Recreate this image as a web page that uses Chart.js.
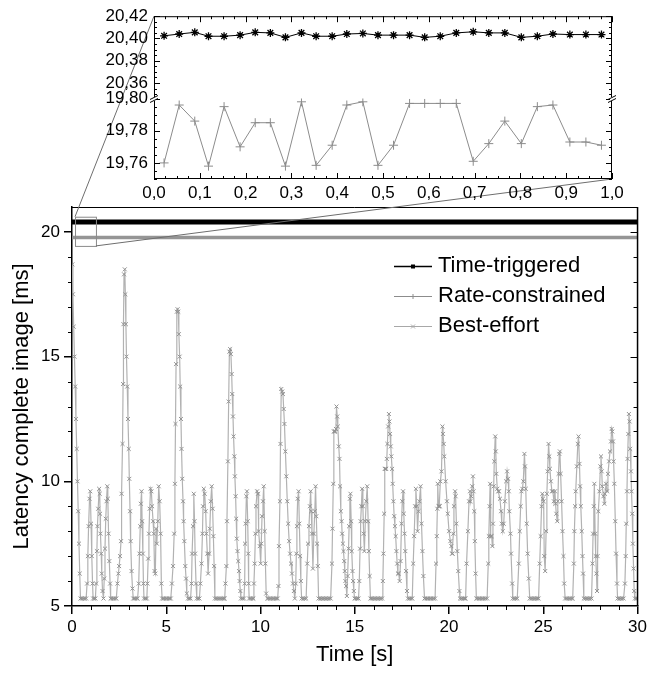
<!DOCTYPE html>
<html>
<head>
<meta charset="utf-8">
<script src="https://cdn.jsdelivr.net/npm/chart.js@4.4.1/dist/chart.umd.min.js"></script>
<style>
  html, body { margin: 0; padding: 0; background: #fff; }
  #wrap { position: relative; width: 650px; height: 675px; }
  #wrap canvas { position: absolute; left: 0; top: 0; }
  #inset { z-index: 2; }
</style>
</head>
<body>
<div id="wrap">
  <canvas id="main" width="650" height="675"></canvas>
  <canvas id="inset" width="650" height="210"></canvas>
</div>
<script>
const FONT = "'Liberation Sans', Arial, Helvetica, sans-serif";
Chart.defaults.font.family = FONT;
Chart.defaults.color = '#000';

// ===== DATA =====
const seriesNames = ['Time-triggered', 'Rate-constrained', 'Best-effort'];

// main plot: the two scheduled classes are flat at this scale
const levelTime = [0, 5, 10, 15, 20, 25, 30];
const ttLevel = [20.40, 20.40, 20.40, 20.40, 20.40, 20.40, 20.40];
const rcLevel = [19.78, 19.78, 19.78, 19.78, 19.78, 19.78, 19.78];

// best-effort latency [t (s), ms]
const bestEffort = [
  [0.02,18.7],[0.05,17.5],[0.09,16.2],[0.13,15.0],[0.17,13.8],[0.21,12.5],[0.25,11.3],[0.29,10.0],[0.33,8.8],[0.37,7.5],[0.41,6.3],[0.45,5.3],[0.52,5.3],[0.6,5.3],[0.68,5.3],[0.75,5.3],
  [0.8,5.9],[0.84,7.0],[0.88,8.2],[0.93,9.3],[0.97,9.6],[1.01,8.3],[1.05,7.0],[1.09,5.9],[1.12,5.3],[1.18,5.3],[1.24,5.3],
  [1.28,5.9],[1.32,7.2],[1.35,8.2],[1.39,8.9],[1.44,9.7],[1.47,9.5],[1.49,8.7],[1.51,7.9],[1.55,7.1],[1.58,6.3],[1.62,5.6],[1.67,5.3],
  [1.71,6.1],[1.75,7.3],[1.79,8.5],[1.83,9.2],[1.87,9.8],[1.9,9.3],[1.94,7.9],[1.98,6.8],[2.02,5.9],[2.05,5.3],[2.12,5.3],[2.2,5.3],[2.28,5.3],[2.35,5.3],
  [2.41,5.9],[2.46,6.3],[2.5,6.6],[2.55,7.0],[2.6,7.6],[2.63,9.5],[2.68,11.5],[2.71,13.9],[2.73,16.3],[2.76,18.3],[2.8,18.5],[2.83,17.5],[2.86,16.3],[2.89,15.0],[2.93,13.8],[2.97,12.5],[3.01,11.3],[3.04,10.1],[3.08,8.8],[3.11,7.6],[3.16,6.4],[3.21,5.7],[3.25,5.3],[3.32,5.3],[3.4,5.3],[3.48,5.3],
  [3.54,5.9],[3.58,7.1],[3.62,8.2],[3.65,9.1],[3.69,9.6],[3.72,8.4],[3.76,7.1],[3.79,5.9],[3.82,5.3],[3.9,5.3],[3.97,5.3],
  [4.0,5.9],[4.04,6.9],[4.08,7.9],[4.12,8.9],[4.17,9.7],[4.21,9.6],[4.25,9.0],[4.3,8.4],[4.34,7.9],[4.38,6.4],[4.42,6.3],[4.46,8.1],[4.5,7.5],[4.55,8.4],[4.6,9.8],[4.65,9.2],[4.7,7.9],[4.74,5.9],[4.78,5.3],[4.85,5.3],[4.93,5.3],[5.01,5.3],[5.09,5.3],[5.17,5.3],[5.24,5.3],
  [5.3,5.9],[5.36,6.6],[5.42,7.9],[5.46,9.9],[5.49,12.3],[5.52,14.7],[5.56,16.8],[5.6,16.9],[5.64,16.8],[5.67,15.9],[5.71,15.0],[5.74,13.8],[5.78,12.5],[5.81,11.3],[5.85,10.1],[5.89,9.2],[5.92,8.4],[5.96,7.6],[6.01,6.6],[6.05,6.1],[6.09,5.5],[6.15,5.3],[6.22,5.3],[6.29,5.3],
  [6.34,5.9],[6.37,7.1],[6.42,8.2],[6.46,9.5],[6.5,8.4],[6.53,7.1],[6.58,5.9],[6.62,5.3],[6.69,5.3],[6.76,5.3],
  [6.81,5.9],[6.87,6.7],[6.92,7.9],[6.95,9.0],[6.99,9.7],[7.04,9.5],[7.09,8.8],[7.13,7.9],[7.18,7.1],[7.22,6.3],[7.27,7.1],[7.31,8.1],[7.36,9.2],[7.41,9.8],[7.46,8.9],[7.5,7.8],[7.54,6.6],[7.58,5.3],[7.65,5.3],[7.73,5.3],[7.81,5.3],[7.89,5.3],[7.97,5.3],[8.05,5.3],[8.1,5.3],
  [8.14,5.9],[8.19,6.6],[8.22,8.4],[8.27,10.8],[8.31,13.2],[8.35,15.2],[8.39,15.3],[8.43,15.1],[8.47,14.3],[8.5,13.5],[8.54,12.6],[8.57,11.8],[8.61,11.0],[8.64,10.2],[8.68,9.4],[8.71,8.5],[8.74,7.7],[8.78,7.2],[8.82,6.8],[8.86,6.4],[8.89,6.0],[8.93,5.6],[8.96,5.3],[9.04,5.3],[9.12,5.3],
  [9.16,5.9],[9.18,7.5],[9.21,8.3],[9.25,9.4],[9.28,9.6],[9.32,8.4],[9.35,7.1],[9.37,5.9],[9.4,5.3],[9.48,5.3],[9.56,5.3],[9.62,5.3],
  [9.65,5.9],[9.69,6.7],[9.73,7.9],[9.76,9.0],[9.82,9.6],[9.87,9.5],[9.9,8.0],[9.96,7.4],[10.01,6.7],[10.04,7.5],[10.08,8.6],[10.13,9.2],[10.17,9.8],[10.22,8.0],[10.26,6.7],[10.3,5.5],[10.36,5.3],[10.44,5.3],[10.52,5.3],[10.6,5.3],[10.68,5.3],[10.76,5.3],[10.84,5.3],[10.91,5.3],
  [10.95,5.8],[10.98,7.4],[11.03,9.2],[11.06,11.5],[11.1,13.7],[11.15,13.6],[11.19,13.5],[11.23,12.9],[11.27,12.3],[11.32,11.2],[11.37,10.2],[11.42,9.2],[11.47,8.3],[11.52,7.6],[11.57,7.1],[11.62,6.7],[11.67,6.3],[11.72,5.9],[11.77,5.6],[11.82,5.3],
  [11.87,5.9],[11.9,7.1],[11.93,8.2],[11.97,9.3],[12.02,9.6],[12.06,8.3],[12.1,7.0],[12.14,6.0],[12.18,5.3],[12.26,5.3],[12.34,5.3],[12.42,5.3],
  [12.48,6.7],[12.52,7.5],[12.57,8.2],[12.62,9.0],[12.66,9.6],[12.69,8.8],[12.73,7.9],[12.78,6.5],[12.83,7.9],[12.88,8.8],[12.92,9.8],[12.96,8.6],[13.0,7.5],[13.04,6.6],[13.08,5.3],[13.16,5.3],[13.24,5.3],[13.32,5.3],[13.4,5.3],[13.48,5.3],[13.56,5.3],[13.64,5.3],[13.72,5.3],
  [13.79,6.7],[13.82,8.1],[13.86,9.9],[13.89,12.0],[13.93,12.0],[13.96,12.0],[14.0,12.1],[14.03,13.0],[14.07,12.6],[14.1,12.2],[14.15,11.4],[14.19,10.9],[14.22,9.8],[14.26,8.8],[14.3,8.4],[14.33,7.9],[14.37,7.5],[14.4,7.2],[14.44,6.8],[14.47,6.4],[14.5,6.0],[14.54,5.8],[14.58,5.4],[14.62,6.2],[14.67,7.3],[14.7,8.2],[14.74,9.3],[14.77,9.5],[14.81,8.4],[14.84,7.2],[14.88,6.4],[14.91,6.0],[14.95,5.6],[14.99,5.3],[15.06,5.3],[15.13,5.3],[15.2,5.3],
  [15.24,6.0],[15.28,7.3],[15.31,8.4],[15.35,9.0],[15.39,9.7],[15.43,9.0],[15.47,7.9],[15.51,7.2],[15.56,8.4],[15.61,9.2],[15.66,9.8],[15.71,8.4],[15.75,7.2],[15.79,6.2],[15.83,5.3],[15.9,5.3],[15.98,5.3],[16.06,5.3],[16.14,5.3],[16.22,5.3],[16.3,5.3],[16.38,5.3],[16.45,5.3],
  [16.49,6.0],[16.52,7.1],[16.56,8.7],[16.59,10.5],[16.63,10.5],[16.66,10.5],[16.7,10.9],[16.73,11.5],[16.77,12.2],[16.81,12.7],[16.84,12.4],[16.87,11.9],[16.91,11.4],[16.94,11.0],[16.98,10.5],[17.01,9.9],[17.05,9.2],[17.09,8.6],[17.13,8.2],[17.17,7.8],[17.21,7.2],[17.25,6.7],[17.29,6.3],[17.33,6.3],[17.38,6.0],[17.43,6.8],[17.48,8.3],[17.52,9.2],[17.56,9.6],[17.6,8.7],[17.64,7.9],[17.68,7.2],[17.72,6.4],[17.77,5.6],[17.82,5.3],[17.9,5.3],[17.98,5.3],[18.05,5.3],
  [18.1,6.7],[18.15,7.8],[18.2,9.0],[18.24,9.7],[18.29,9.0],[18.33,8.0],[18.38,8.8],[18.43,9.2],[18.49,9.8],[18.54,8.3],[18.59,7.2],[18.64,6.2],[18.7,5.3],[18.78,5.3],[18.86,5.3],[18.94,5.3],[19.02,5.3],[19.1,5.3],[19.18,5.3],[19.26,5.3],
  [19.31,6.7],[19.35,7.8],[19.38,8.9],[19.4,9.9],[19.44,9.0],[19.48,9.0],[19.51,9.0],[19.54,10.0],[19.6,10.4],[19.65,12.2],[19.68,11.9],[19.72,11.5],[19.75,11.0],[19.82,10.0],[19.89,9.2],[19.93,8.7],[20.0,8.0],[20.07,7.6],[20.12,7.4],[20.16,7.1],[20.19,7.1],[20.23,7.9],[20.26,9.0],[20.32,9.6],[20.35,9.4],[20.39,8.3],[20.44,7.2],[20.49,6.4],[20.55,5.6],[20.58,5.3],[20.66,5.3],[20.74,5.3],[20.82,5.3],[20.88,5.3],
  [20.93,6.7],[21.0,8.0],[21.06,9.2],[21.11,9.6],[21.14,9.2],[21.18,9.4],[21.23,9.8],[21.27,10.2],[21.3,9.6],[21.34,8.8],[21.37,7.6],[21.41,6.3],[21.45,5.3],[21.53,5.3],[21.61,5.3],[21.69,5.3],[21.77,5.3],[21.85,5.3],[21.93,5.3],[22.02,5.3],
  [22.08,6.7],[22.11,7.8],[22.15,9.0],[22.18,9.9],[22.21,7.8],[22.26,7.8],[22.3,7.4],[22.33,8.3],[22.37,9.8],[22.4,10.8],[22.45,11.8],[22.48,11.2],[22.51,10.3],[22.56,9.7],[22.61,9.6],[22.65,9.6],[22.7,9.3],[22.76,8.8],[22.8,8.3],[22.85,8.0],[22.9,8.3],[22.96,9.2],[23.03,10.0],[23.08,10.4],[23.13,10.1],[23.17,9.6],[23.2,8.8],[23.26,7.9],[23.29,7.1],[23.35,5.9],[23.38,5.3],[23.46,5.3],[23.54,5.3],[23.62,5.3],
  [23.7,6.7],[23.75,8.0],[23.8,9.0],[23.84,9.6],[23.89,9.7],[23.94,10.0],[24.0,11.1],[24.03,10.6],[24.07,9.7],[24.12,8.3],[24.17,7.1],[24.23,6.1],[24.28,5.3],[24.36,5.3],[24.44,5.3],[24.52,5.3],[24.6,5.3],[24.68,5.3],[24.75,5.3],
  [24.81,6.7],[24.86,7.8],[24.91,9.0],[24.95,9.5],[24.98,9.3],[25.02,9.2],[25.05,7.0],[25.1,6.4],[25.15,8.0],[25.19,9.5],[25.23,10.4],[25.28,11.5],[25.32,11.0],[25.35,10.5],[25.4,10.0],[25.46,9.6],[25.51,9.6],[25.56,9.2],[25.62,9.6],[25.65,9.1],[25.69,8.7],[25.74,8.4],[25.77,9.2],[25.81,10.3],[25.85,11.1],[25.88,11.2],[25.92,10.3],[25.97,9.2],[26.02,8.0],[26.07,7.0],[26.11,5.9],[26.16,5.3],[26.24,5.3],[26.32,5.3],[26.4,5.3],[26.48,5.3],[26.56,5.3],
  [26.62,6.7],[26.65,8.0],[26.69,9.0],[26.72,9.6],[26.78,10.6],[26.83,11.5],[26.87,11.8],[26.92,10.7],[26.95,9.8],[26.99,9.0],[27.04,8.0],[27.08,7.0],[27.11,6.3],[27.15,5.3],[27.23,5.3],[27.31,5.3],[27.39,5.3],[27.47,5.3],[27.56,5.3],
  [27.61,6.7],[27.64,7.9],[27.68,9.0],[27.71,9.9],[27.75,7.9],[27.78,7.0],[27.82,6.3],[27.85,5.6],[27.88,7.0],[27.92,8.8],[27.98,9.6],[28.03,10.6],[28.06,11.0],[28.1,10.4],[28.13,9.8],[28.19,9.4],[28.24,9.1],[28.27,9.5],[28.33,9.9],[28.38,9.6],[28.43,10.3],[28.49,10.8],[28.54,11.2],[28.59,11.6],[28.63,12.1],[28.66,12.0],[28.7,11.6],[28.73,10.8],[28.77,9.9],[28.82,8.4],[28.86,7.1],[28.91,5.9],[28.94,5.3],[29.02,5.3],[29.1,5.3],[29.18,5.3],[29.26,5.3],
  [29.33,5.9],[29.37,7.0],[29.4,8.3],[29.44,9.6],[29.47,10.9],[29.51,11.9],[29.54,12.7],[29.58,12.4],[29.61,11.3],[29.65,10.4],[29.68,9.6],[29.72,8.7],[29.75,7.5],[29.79,6.5],[29.82,5.6],[29.86,5.3],[29.92,5.3],[29.98,5.3]
];

// inset: first second, both scheduled classes
const insetTime = [0.022, 0.055, 0.089, 0.119, 0.153, 0.188, 0.221, 0.254, 0.287, 0.322,
  0.354, 0.389, 0.421, 0.456, 0.489, 0.523, 0.558, 0.591, 0.625, 0.660,
  0.697, 0.731, 0.766, 0.802, 0.837, 0.871, 0.908, 0.943, 0.977];
const ttInset = [20.4024, 20.404, 20.4055, 20.402, 20.402, 20.403, 20.4055, 20.405, 20.401, 20.405,
  20.402, 20.402, 20.404, 20.4045, 20.403, 20.403, 20.403, 20.401, 20.402, 20.405,
  20.406, 20.405, 20.405, 20.401, 20.402, 20.404, 20.4035, 20.4035, 20.4035];
const rcInset = [19.760, 19.796, 19.786, 19.758, 19.795, 19.770, 19.785, 19.785, 19.758, 19.798,
  19.7585, 19.771, 19.796, 19.798, 19.7585, 19.771, 19.797, 19.797, 19.797, 19.797,
  19.761, 19.772, 19.786, 19.772, 19.795, 19.796, 19.773, 19.773, 19.771];

// region of the main plot that the inset magnifies (data units)
const zoomBox = { t0: 0.16, t1: 1.27, vLow: 19.44, vHigh: 20.61 };

const toXY = (xs, ys) => xs.map((x, i) => ({ x, y: ys[i] }));
const comma = (v, d) => v.toFixed(d).replace('.', ',');

// ===== INSET =====
const insetFrame = {
    id: 'insetFrame',
    afterDraw(chart) {
        const { ctx, chartArea: a, scales } = chart;
        const x = scales.x, yt = scales.yTop, yb = scales.yBot;
        ctx.save();
        ctx.strokeStyle = '#000';
        ctx.lineWidth = 1;
        ctx.strokeRect(a.left + 0.5, a.top + 0.5, a.right - a.left - 1, a.bottom - a.top - 1);
        ctx.beginPath();
        for (let k = 0; k <= 40; k++) {
            const px = Math.round(x.getPixelForValue(k / 40)) + 0.5;
            const len = k % 4 === 0 ? 6 : 3;
            ctx.moveTo(px, a.bottom); ctx.lineTo(px, a.bottom - len);
            ctx.moveTo(px, a.top); ctx.lineTo(px, a.top + len);
        }
        [yt, yb].forEach(s => {
            const first = Math.ceil(s.min / 0.005 - 1e-6);
            for (let k = first; k * 0.005 <= s.max + 1e-9; k++) {
                const v = k * 0.005;
                const py = Math.round(s.getPixelForValue(v)) + 0.5;
                const major = Math.abs(v / 0.02 - Math.round(v / 0.02)) < 1e-6;
                const len = major ? 6 : 3;
                ctx.moveTo(a.left, py); ctx.lineTo(a.left + len, py);
                ctx.moveTo(a.right, py); ctx.lineTo(a.right - len, py);
            }
        });
        ctx.stroke();
        // axis break marks
        const by = Math.round(yt.bottom);
        [a.left, a.right].forEach(bx => {
            ctx.fillStyle = '#fff';
            ctx.fillRect(bx - 2, by - 2, 4, 4);
            ctx.beginPath();
            ctx.moveTo(bx - 4, by + 0.5); ctx.lineTo(bx + 4, by - 3.5);
            ctx.moveTo(bx - 4, by + 3.5); ctx.lineTo(bx + 4, by - 0.5);
            ctx.stroke();
        });
        ctx.restore();
    }
};

const insetY = (min, max, weight) => ({
    type: 'linear', position: 'left', stack: 'brk', stackWeight: weight,
    min, max,
    grid: { display: false, drawTicks: false },
    border: { display: false },
    ticks: {
        stepSize: 0.02, includeBounds: false, autoSkip: false, padding: 6,
        font: { size: 17 }, color: '#000', callback: v => comma(v, 2)
    },
    afterFit: s => { s.width = 154; }
});

const insetChart = new Chart(document.getElementById('inset'), {
    type: 'line',
    data: {
        datasets: [
            {
                label: seriesNames[0], data: toXY(insetTime, ttInset), yAxisID: 'yTop',
                borderColor: '#000', borderWidth: 1,
                pointStyle: 'star', pointRadius: 4, pointBorderColor: '#000', pointBorderWidth: 1.3
            },
            {
                label: seriesNames[1], data: toXY(insetTime, rcInset), yAxisID: 'yBot',
                borderColor: '#8c8c8c', borderWidth: 1,
                pointStyle: 'cross', pointRadius: 4.5, pointBorderColor: '#8c8c8c', pointBorderWidth: 1
            }
        ]
    },
    options: {
        responsive: false, animation: false, events: [],
        layout: { padding: { left: 0, top: 14, right: 38, bottom: 0 } },
        plugins: { legend: { display: false }, tooltip: { enabled: false } },
        scales: {
            x: {
                type: 'linear', min: 0, max: 1,
                grid: { display: false, drawTicks: false },
                border: { display: false },
                ticks: {
                    stepSize: 0.1, autoSkip: false, maxRotation: 0, padding: 4,
                    font: { size: 17 }, color: '#000', callback: v => comma(v, 1)
                },
                afterFit: s => { s.height = 31; }
            },
            yBot: insetY(19.75, 19.80, 80.7),
            yTop: insetY(20.346, 20.42, 82.7)
        }
    },
    plugins: [insetFrame]
});

// ===== MAIN =====
const mainDecor = {
    id: 'mainDecor',
    afterDraw(chart) {
        const { ctx, chartArea: a, scales: { x, y } } = chart;
        ctx.save();
        ctx.strokeStyle = '#000';
        ctx.lineWidth = 1;
        ctx.beginPath();
        ctx.moveTo(a.left, a.top + 0.5); ctx.lineTo(a.right, a.top + 0.5);
        ctx.stroke();
        ctx.lineWidth = 1.5;
        ctx.beginPath();
        ctx.moveTo(a.right, a.top); ctx.lineTo(a.right, a.bottom);
        ctx.stroke();

        ctx.lineWidth = 1;
        ctx.beginPath();
        for (let v = 6; v <= 20; v++) {
            const py = Math.round(y.getPixelForValue(v)) + 0.5;
            if (v % 5) { ctx.moveTo(a.left - 4, py); ctx.lineTo(a.left, py); }
            ctx.moveTo(a.right, py); ctx.lineTo(a.right - (v % 5 ? 4 : 7), py);
        }
        for (let t = 1; t < 30; t++) {
            if (t % 5 === 0) continue;
            const px = Math.round(x.getPixelForValue(t)) + 0.5;
            ctx.moveTo(px, a.bottom); ctx.lineTo(px, a.bottom + 4);
        }
        ctx.stroke();

        // magnified region and its connectors to the inset
        const rl = x.getPixelForValue(zoomBox.t0), rr = x.getPixelForValue(zoomBox.t1);
        const rt = y.getPixelForValue(zoomBox.vHigh), rb = y.getPixelForValue(zoomBox.vLow);
        ctx.strokeStyle = '#8a8a8a';
        ctx.strokeRect(rl + 0.5, rt + 0.5, rr - rl, rb - rt);
        if (insetChart && insetChart.chartArea) {
            const ia = insetChart.chartArea;
            ctx.strokeStyle = '#6e6e6e';
            ctx.beginPath();
            ctx.moveTo(rl, rt); ctx.lineTo(ia.left, ia.top);
            ctx.moveTo(rr, rb); ctx.lineTo(ia.right, ia.bottom);
            ctx.stroke();
        }

        // legend
        const rows = [
            { name: seriesNames[0], y: 266, color: '#000', width: 1.5, mark: 'sq' },
            { name: seriesNames[1], y: 296, color: '#8c8c8c', width: 1, mark: 'plus' },
            { name: seriesNames[2], y: 326, color: '#a8a8a8', width: 1, mark: 'x' }
        ];
        ctx.font = `22px ${FONT}`;
        ctx.textBaseline = 'middle';
        ctx.textAlign = 'left';
        rows.forEach(r => {
            ctx.strokeStyle = r.color;
            ctx.lineWidth = r.width;
            ctx.beginPath();
            ctx.moveTo(394, r.y + 0.5); ctx.lineTo(432, r.y + 0.5);
            ctx.stroke();
            ctx.lineWidth = 1;
            ctx.beginPath();
            if (r.mark === 'sq') {
                ctx.fillStyle = r.color;
                ctx.fillRect(411, r.y - 1.5, 4, 4);
            } else if (r.mark === 'plus') {
                ctx.moveTo(413, r.y - 2); ctx.lineTo(413, r.y + 3);
            } else {
                ctx.moveTo(411, r.y - 1.5); ctx.lineTo(415, r.y + 2.5);
                ctx.moveTo(415, r.y - 1.5); ctx.lineTo(411, r.y + 2.5);
            }
            ctx.stroke();
            ctx.fillStyle = '#000';
            ctx.fillText(r.name, 438, r.y);
        });
        ctx.restore();
    }
};

new Chart(document.getElementById('main'), {
    type: 'line',
    data: {
        datasets: [
            {
                label: seriesNames[0], data: toXY(levelTime, ttLevel),
                borderColor: '#000', borderWidth: 5, pointRadius: 0
            },
            {
                label: seriesNames[1], data: toXY(levelTime, rcLevel),
                borderColor: '#959595', borderWidth: 3.5, pointRadius: 0
            },
            {
                label: seriesNames[2], data: bestEffort.map(([x, y]) => ({ x, y })),
                borderColor: '#b2b2b2', borderWidth: 1.2,
                pointStyle: 'crossRot', pointRadius: 2.8, pointBorderColor: '#929292', pointBorderWidth: 1
            }
        ]
    },
    options: {
        responsive: false, animation: false, events: [],
        layout: { padding: { left: 0, top: 207, right: 10, bottom: 0 } },
        plugins: { legend: { display: false }, tooltip: { enabled: false } },
        scales: {
            x: {
                type: 'linear', min: 0, max: 30,
                grid: { drawOnChartArea: false, drawTicks: true, tickLength: 8, color: '#000', lineWidth: 1.5 },
                border: { display: true, color: '#000', width: 1.5 },
                ticks: { stepSize: 5, maxRotation: 0, padding: 3, font: { size: 17 }, color: '#000' },
                title: { display: true, text: 'Time [s]', font: { size: 22 }, color: '#000', padding: { top: 0, bottom: 7 } },
                afterFit: s => { s.height = 69; }
            },
            y: {
                type: 'linear', min: 5, max: 21,
                grid: { drawOnChartArea: false, drawTicks: true, tickLength: 8, color: '#000', lineWidth: 1.5 },
                border: { display: true, color: '#000', width: 1.5 },
                ticks: { stepSize: 5, includeBounds: false, padding: 4, font: { size: 17 }, color: '#000' },
                title: { display: true, text: 'Latency complete image [ms]', font: { size: 22 }, color: '#000', padding: { top: 9, bottom: 0 } },
                afterFit: s => { s.width = 72; }
            }
        }
    },
    plugins: [mainDecor]
});
</script>
</body>
</html>
